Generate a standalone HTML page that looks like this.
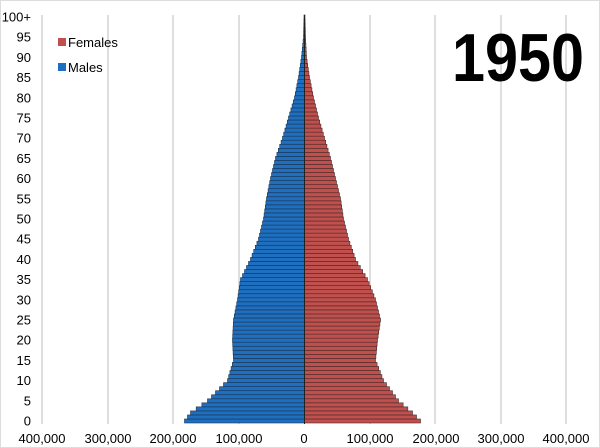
<!DOCTYPE html>
<html><head><meta charset="utf-8"><style>
html,body{margin:0;padding:0;background:#fff}
svg{display:block}
text{font-family:"Liberation Sans",Arial,sans-serif;fill:#000}
</style></head><body>
<svg id="s" width="600" height="448" viewBox="0 0 600 448" xmlns="http://www.w3.org/2000/svg">
<rect x="0.5" y="0.5" width="599" height="447" fill="#fff" stroke="#ddd"/>
<g stroke="#d4d4d4" stroke-width="1.5">
<line x1="42" y1="15" x2="42" y2="424"/><line x1="108" y1="15" x2="108" y2="424"/>
<line x1="173" y1="15" x2="173" y2="424"/><line x1="239" y1="15" x2="239" y2="424"/>
<line x1="370" y1="15" x2="370" y2="424"/><line x1="435" y1="15" x2="435" y2="424"/>
<line x1="501" y1="15" x2="501" y2="424"/><line x1="566" y1="15" x2="566" y2="424"/>
</g>
<g id="bars"></g>
<line x1="304.5" y1="15" x2="304.5" y2="424" stroke="#222" stroke-width="1"/>
<g font-size="13" text-anchor="end" id="yl"></g>
<g font-size="13" text-anchor="middle">
<text x="42" y="443">400,000</text><text x="108" y="443">300,000</text>
<text x="173" y="443">200,000</text><text x="239" y="443">100,000</text>
<text x="304" y="443">0</text><text x="370" y="443">100,000</text>
<text x="436" y="443">200,000</text><text x="501" y="443">300,000</text>
<text x="566" y="443">400,000</text>
</g>
<rect x="58" y="38" width="8" height="8" fill="#c0504d"/>
<text x="68" y="47" font-size="13">Females</text>
<rect x="58" y="63" width="8" height="8" fill="#1f6fc0"/>
<text x="68" y="72" font-size="13">Males</text>
<text x="452" y="81" font-size="68" font-weight="bold" textLength="132" lengthAdjust="spacingAndGlyphs">1950</text>
</svg>
<script>
var M=[[0,120],[2,114],[5,97],[10,77],[15,71],[20,72],[25,71],[30,67],[35,64],[40,54],[45,46],[50,41],[55,38],[60,34],[65,29],[70,22],[75,16],[80,10],[85,6],[90,3],[95,1],[100,0.5]];
var F=[[0,116],[2,108],[5,94],[10,79],[15,71],[20,73],[25,76],[30,71],[35,63],[40,51],[45,44],[50,39],[55,36],[60,31],[65,26],[70,20],[75,14],[80,9],[85,5],[90,2],[95,1],[100,0.5]];
function it(t,a){for(var i=0;i<t.length-1;i++){if(a>=t[i][0]&&a<=t[i+1][0]){var f=(a-t[i][0])/(t[i+1][0]-t[i][0]);return t[i][1]+f*(t[i+1][1]-t[i][1]);}}return 0;}
var g=document.getElementById('bars'),s='';
for(var a=0;a<=100;a++){var y=421-a*4.04-2;var m=it(M,a),f=it(F,a);
s+='<rect x="'+(304.5-m)+'" y="'+y+'" width="'+m+'" height="4" fill="#1f6fc0" stroke="#1c3550" stroke-width="0.6"/>';
s+='<rect x="304.5" y="'+y+'" width="'+f+'" height="4" fill="#c0504d" stroke="#4a2a2a" stroke-width="0.6"/>';}
g.innerHTML=s;
var yl=document.getElementById('yl'),t='';
for(var a=0;a<=100;a+=5){t+='<text x="31" y="'+(421-a*4.04+4.5)+'">'+(a==100?'100+':a)+'</text>';}
yl.innerHTML=t;
</script>
</body></html>
